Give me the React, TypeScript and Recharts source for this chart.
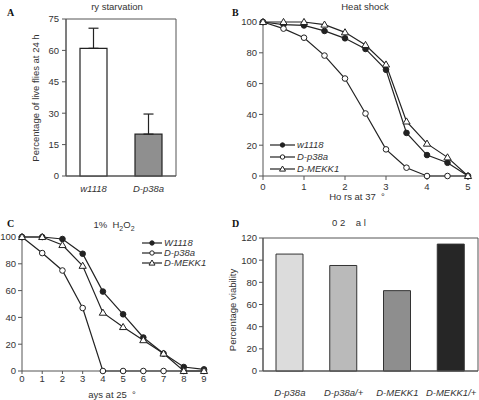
import { BarChart, Bar, LineChart, Line, XAxis, YAxis, ErrorBar, Cell, ReferenceArea } from 'recharts'

const FONT = '"Liberation Sans", Arial, Helvetica, sans-serif'
const INK = '#222'
const AXIS = '#555'
const TXT = '#333'

// A: starvation survival
const starvCats = ['w1118', 'D-p38a']
const starvVals = [61, 20]
const starvErr = [9.6, 9.6]
const starvFill = ['#ffffff', '#8f8f8f']
const starvTicks = [0, 15, 30, 45, 60, 75]

// B: heat shock
const heatHours = [0, 0.5, 1, 1.5, 2, 2.5, 3, 3.5, 4, 4.5, 5]
const heatW1118 = [100, 98.3, 97.8, 94.2, 89.4, 82.5, 69, 28, 13.6, 8.6, 0]
const heatP38 = [100, 95.7, 89.8, 78.2, 63.3, 40.6, 17.3, 5.4, 0, 0, 0]
const heatMekk = [100, 100, 100, 98.3, 93.3, 85.1, 72.4, 35.4, 21, 12.1, 0]
const heatXTicks = [0, 1, 2, 3, 4, 5]
const pctTicks = [0, 20, 40, 60, 80, 100]

// C: 1% H2O2
const days = [0, 1, 2, 3, 4, 5, 6, 7, 8, 9]
const h2o2W1118 = [100, 100, 98.5, 87.5, 59.3, 42.3, 25, 13, 3, 1.2]
const h2o2P38 = [100, 88, 75, 47, 0, 0, 0, 0, 0, 0]
const h2o2Mekk = [100, 100, 94, 78.5, 43.5, 32.8, 23, 13, 0, 0]

// D: viability
const viabCats = ['D-p38a', 'D-p38a/+', 'D-MEKK1', 'D-MEKK1/+']
const viabVals = [105.5, 95.2, 72.5, 114.5]
const viabFill = ['#dcdcdc', '#bababa', '#8e8e8e', '#262626']
const viabTicks = [0, 20, 40, 60, 80, 100, 120]

const starvData = starvCats.map((c, i) => ({ cat: c, v: starvVals[i], err: [0, starvErr[i]] }))
const heatData = heatHours.map((h, i) => ({ x: h, w: heatW1118[i], p: heatP38[i], m: heatMekk[i] }))
const h2o2Data = days.map((d, i) => ({ x: d, w: h2o2W1118[i], p: h2o2P38[i], m: h2o2Mekk[i] }))
const viabData = viabCats.map((c, i) => ({ cat: c, v: viabVals[i] }))

const tickStyle = { fontSize: 9.5, fill: TXT, fontFamily: FONT }
const catTick = { ...tickStyle, fontStyle: 'italic' as const }

function marker(kind: string, cx: number, cy: number, r = 2.8, key?: any) {
  if (kind === 'filled') return <circle key={key} cx={cx} cy={cy} r={r} fill={INK} stroke={INK} strokeWidth={1} />
  if (kind === 'open') return <circle key={key} cx={cx} cy={cy} r={r} fill="#fff" stroke={INK} strokeWidth={1} />
  const s = r + 0.8
  return (
    <polygon key={key} points={`${cx},${cy - s} ${cx + s},${cy + s * 0.7} ${cx - s},${cy + s * 0.7}`}
      fill="#fff" stroke={INK} strokeWidth={1} />
  )
}

const dot = (kind: string) => (p: any) => marker(kind, p.cx, p.cy, 2.8, p.index)

const SERIES = [
  { key: 'w', kind: 'filled' },
  { key: 'p', kind: 'open' },
  { key: 'm', kind: 'tri' },
]

function LegendBox({ names, lineLen, gap, left, top }: { names: string[], lineLen: number, gap: number, left: number, top: number }) {
  return (
    <svg width={110} height={gap * 3 + 4} style={{ position: 'absolute', left, top, overflow: 'visible' }}>
      {SERIES.map((s, i) => {
        const y = 5 + i * gap
        return (
          <g key={s.key}>
            <line x1={0} x2={lineLen} y1={y} y2={y} stroke={INK} strokeWidth={1.2} />
            {marker(s.kind, lineLen / 2, y, 2.2)}
            <text x={lineLen + 2} y={y + 3.4} fontSize={9.5} fontStyle="italic" fill={TXT} fontFamily={FONT}>{names[i]}</text>
          </g>
        )
      })}
    </svg>
  )
}

const label = (text: any, left: number, top: number, extra: any = {}) => (
  <div style={{
    position: 'absolute', left, top, fontFamily: FONT, fontSize: 9.5, color: TXT,
    whiteSpace: 'pre', transform: 'translate(-50%, -50%)', lineHeight: 1, ...extra,
  }}>{text}</div>
)

const letter = (t: string, left: number, top: number) => (
  <div style={{
    position: 'absolute', left, top, fontFamily: '"Liberation Serif", serif', fontWeight: 'bold',
    fontSize: 10, color: '#111', lineHeight: 1,
  }}>{t}</div>
)

export default function App() {
  return (
    <div style={{ position: 'absolute', left: 0, top: 0, width: 479, height: 400, background: '#fff', overflow: 'hidden' }}>
      {/* A */}
      <div style={{ position: 'absolute', left: 0, top: 0 }}>
        <BarChart width={240} height={200} data={starvData} margin={{ top: 19, right: 64, left: 0, bottom: 0 }} barSize={27}>
          <ReferenceArea y1={0} y2={75} fill="none" stroke={AXIS} strokeWidth={1} ifOverflow="visible" />
          <XAxis dataKey="cat" height={24} tick={catTick} tickLine={false} tickSize={0} tickMargin={9} stroke={AXIS} />
          <YAxis domain={[0, 75]} ticks={starvTicks} width={66} tick={tickStyle} tickSize={4} tickMargin={3} stroke={AXIS} />
          <Bar dataKey="v" stroke={INK} strokeWidth={1.2} isAnimationActive={false}>
            {starvData.map((d, i) => <Cell key={d.cat} fill={starvFill[i]} />)}
            <ErrorBar dataKey="err" width={5} stroke={INK} strokeWidth={1.2} direction="y" />
          </Bar>
        </BarChart>
      </div>
      {letter('A', 7, 8)}
      {label('ry starvation', 117, 7)}
      {label('Percentage of live flies at 24 h', 36, 98, { transform: 'translate(-50%, -50%) rotate(-90deg)' })}

      {/* B */}
      <div style={{ position: 'absolute', left: 240, top: 0 }}>
        <LineChart width={239} height={200} data={heatData} margin={{ top: 22, right: 11, left: 0, bottom: 0 }}>
          <XAxis dataKey="x" type="number" domain={[0, 5]} ticks={heatXTicks} height={24} tick={tickStyle} tickSize={4} tickMargin={3} stroke={AXIS} />
          <YAxis domain={[0, 100]} ticks={pctTicks} width={23} tick={tickStyle} tickSize={4} tickMargin={2} stroke={AXIS} />
          {SERIES.map(s => (
            <Line key={s.key} dataKey={s.key} stroke={INK} strokeWidth={1.2} dot={dot(s.kind)} activeDot={false} isAnimationActive={false} />
          ))}
        </LineChart>
      </div>
      <LegendBox names={['w1118', 'D-p38a', 'D-MEKK1']} lineLen={25} gap={12} left={270} top={140} />
      {letter('B', 232, 8)}
      {label('Heat shock', 365, 7)}
      {label('Ho rs at 37  °', 357, 197)}

      {/* C */}
      <div style={{ position: 'absolute', left: 0, top: 200 }}>
        <LineChart width={240} height={200} data={h2o2Data} margin={{ top: 37, right: 36, left: 0, bottom: 0 }}>
          <XAxis dataKey="x" type="number" domain={[0, 9]} ticks={days} height={29} tick={tickStyle} tickSize={3} tickMargin={1} stroke={AXIS} />
          <YAxis domain={[0, 100]} ticks={pctTicks} width={22} tick={tickStyle} tickSize={4} tickMargin={2} stroke={AXIS} />
          {SERIES.map(s => (
            <Line key={s.key} dataKey={s.key} stroke={INK} strokeWidth={1.2} dot={dot(s.kind)} activeDot={false} isAnimationActive={false} />
          ))}
        </LineChart>
      </div>
      <LegendBox names={['W1118', 'D-p38a', 'D-MEKK1']} lineLen={20} gap={10} left={142} top={238} />
      {letter('C', 7, 219)}
      {label(<span>1%  H<sub style={{ fontSize: 7 }}>2</sub>O<sub style={{ fontSize: 7 }}>2</sub></span>, 114, 226)}
      {label('ays at 25  °', 112, 395)}

      {/* D */}
      <div style={{ position: 'absolute', left: 240, top: 200 }}>
        <BarChart width={239} height={200} data={viabData} margin={{ top: 38, right: 1, left: 0, bottom: 0 }} barSize={27}>
          <ReferenceArea y1={0} y2={120} fill="none" stroke={AXIS} strokeWidth={1} ifOverflow="visible" />
          <XAxis dataKey="cat" height={29} tick={catTick} tickLine={false} tickSize={0} tickMargin={18} stroke={AXIS} />
          <YAxis domain={[0, 120]} ticks={viabTicks} width={23} tick={tickStyle} tickSize={4} tickMargin={2} stroke={AXIS} />
          <Bar dataKey="v" stroke="#333" strokeWidth={1} isAnimationActive={false}>
            {viabData.map((d, i) => <Cell key={d.cat} fill={viabFill[i]} />)}
          </Bar>
        </BarChart>
      </div>
      {letter('D', 232, 219)}
      {label('0 2    a l', 349, 223)}
      {label('Percentage viability', 233, 310, { transform: 'translate(-50%, -50%) rotate(-90deg)' })}
    </div>
  )
}
